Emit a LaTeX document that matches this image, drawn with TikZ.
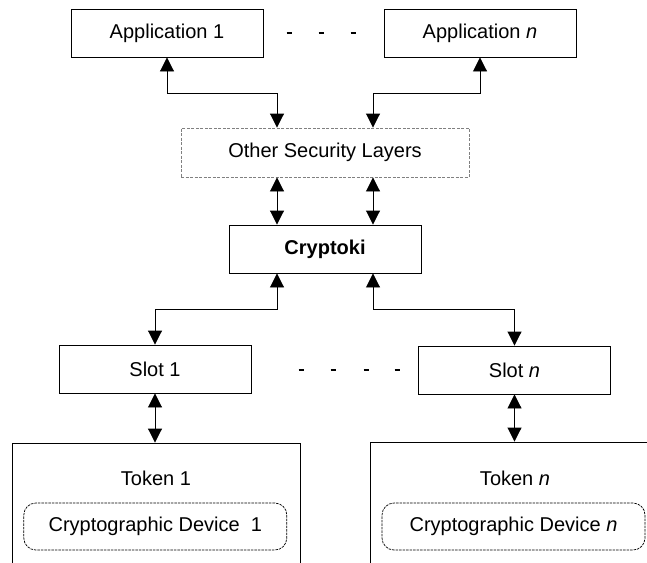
\documentclass[tikz,border=0pt]{standalone}
\usepackage{fontspec}
\setmainfont{Liberation Sans}
\usetikzlibrary{arrows.meta,calc}
\begin{document}
\begin{tikzpicture}[x=1pt,y=-1pt,
  txt/.style={font=\fontsize{20}{24}\selectfont},
  box/.style={txt,draw,line width=0.9pt,minimum height=48pt,minimum width=192pt,inner sep=0pt},
  lbl/.style={txt,inner sep=0pt},
  dev/.style={txt,draw,line width=0.7pt,dash pattern=on 2.5pt off 1pt,rounded corners=12pt,minimum width=263pt,minimum height=47pt,inner sep=0pt},
  arr/.style={{Triangle[width=14pt,length=14pt]}-{Triangle[width=14pt,length=14pt]},line width=0.9pt},
  dotmark/.style={line width=2.5pt}
]
\useasboundingbox (0,0) rectangle (647,562);
\clip (0,0) rectangle (647,562);

\node[box] (app1) at (167,33) {Application 1};
\node[box] (appn) at (480,33) {Application \textit{n}};
\node[box,draw=gray,dash pattern=on 3pt off 1.5pt,minimum width=288pt,minimum height=49pt] (osl) at (325,152.5) {Other Security Layers};
\node[box,font=\fontsize{20}{24}\selectfont\bfseries] (crypt) at (325,249) {Cryptoki};
\node[box] (slot1) at (155,369) {Slot 1};
\node[box] (slotn) at (514.5,370) {Slot \textit{n}};
\node[box,minimum width=288pt,minimum height=157pt] (tok1) at (156,521.5) {};
\node[box,minimum width=330pt,minimum height=158pt] (tokn) at (535.7,521) {};
\node[lbl] (tok1lbl) at (156,478.5) {Token 1};
\node[lbl] (toknlbl) at (515,478.5) {Token \textit{n}};
\node[dev] (dev1) at (155.3,526.5) {Cryptographic Device\ \ 1};
\node[dev] (devn) at (513.5,526.5) {Cryptographic Device \textit{n}};

\coordinate (oslL) at ($(osl.north)+(-48,0)$);
\coordinate (oslR) at ($(osl.north)+(48,0)$);
\draw[arr] (app1.south) -- ++(0,36) -| (oslL);
\draw[arr] (appn.south) -- ++(0,36) -| (oslR);
\draw[arr] (osl.south -| oslL) -- (crypt.north -| oslL);
\draw[arr] (osl.south -| oslR) -- (crypt.north -| oslR);
\draw[arr] (crypt.south -| oslL) -- ++(0,36) -| (slot1.north);
\draw[arr] (crypt.south -| oslR) -- ++(0,36) -| (slotn.north);
\draw[arr] (slot1.south) -- (slot1.south |- tok1.north);
\draw[arr] (slotn.south) -- (slotn.south |- tokn.north);

\foreach \x in {289,321,353} \draw[dotmark] (\x-2.5,33) -- (\x+2.5,33);
\foreach \x in {301,333,366,397} \draw[dotmark] (\x-2.5,370) -- (\x+2.5,370);
\end{tikzpicture}
\end{document}
